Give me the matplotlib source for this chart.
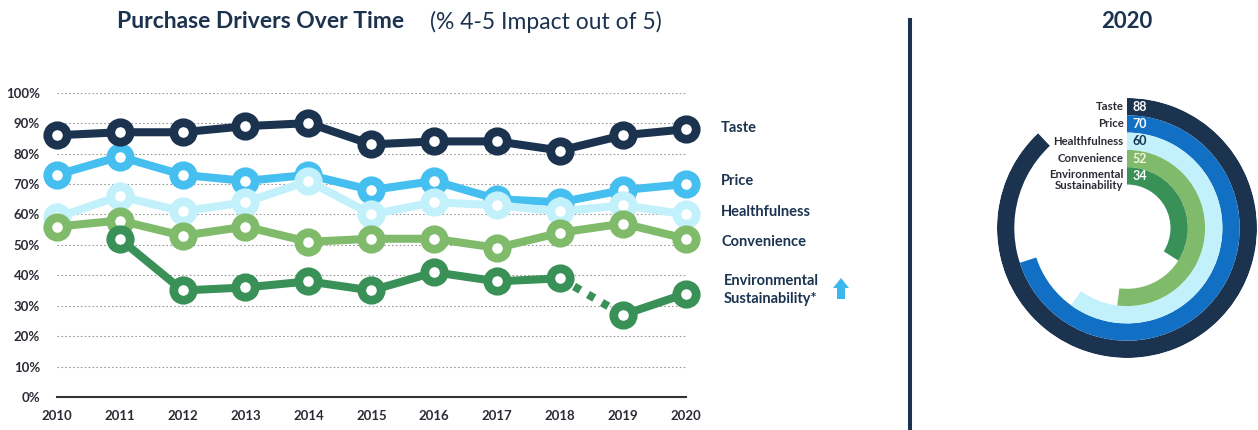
import matplotlib
matplotlib.use('Agg')
import matplotlib.pyplot as plt
from matplotlib.patches import Polygon
import numpy as np

plt.rcParams['font.family'] = ['Lato', 'DejaVu Sans']

# data
years = [2010, 2011, 2012, 2013, 2014, 2015, 2016, 2017, 2018, 2019, 2020]
taste = [86, 87, 87, 89, 90, 83, 84, 84, 81, 86, 88]
price = [73, 79, 73, 71, 73, 68, 71, 65, 64, 68, 70]
health = [59, 66, 61, 64, 71, 60, 64, 63, 61, 63, 60]
convenience = [56, 58, 53, 56, 51, 52, 52, 49, 54, 57, 52]
environment = [np.nan, 52, 35, 36, 38, 35, 41, 38, 39, 27, 34]

names = ['Taste', 'Price', 'Healthfulness', 'Convenience', 'Environmental\nSustainability']
line_colors = ['#1c3350', '#45bff0', '#c2f1fc', '#80bb6b', '#3a9158']
ring_colors = ['#1c3350', '#1270c4', '#c2f1fc', '#80bb6b', '#3a9158']
num_colors = ['#ffffff', '#ffffff', '#1c3350', '#f4f4e0', '#ffffff']

dark = '#1c3350'
text_col = '#2b2b35'
W, H = 1258, 430

fig = plt.figure(figsize=(12.58, 4.30), dpi=100)

# ---- line chart ----
ax = fig.add_axes([56.7 / W, 1 - 397 / H, (686 - 56.7) / W, (397 - 92.7) / H])
series = [price, health, convenience, environment, taste]
cols = [line_colors[1], line_colors[2], line_colors[3], line_colors[4], line_colors[0]]
x = np.array(years)
for vals, c in zip(series, cols):
    y = np.array(vals, dtype=float)
    if vals is environment:
        # dotted gap between 2018 and 2019
        ax.plot(x[:9], y[:9], color=c, lw=5.8, clip_on=False)
        ax.plot(x[8:10], y[8:10], color=c, lw=5.8, linestyle=(0, (0.9, 1.1)), clip_on=False)
        ax.plot(x[9:], y[9:], color=c, lw=5.8, clip_on=False)
    else:
        ax.plot(x, y, color=c, lw=5.8, clip_on=False)
    ax.plot(x, y, linestyle='none', marker='o', ms=14, mew=6.3, mfc='white', mec=c, clip_on=False)

ax.set_xlim(2010, 2020)
ax.set_ylim(0, 100)
ax.set_yticks(range(0, 101, 10))
ax.set_yticklabels([f'{v}%' for v in range(0, 101, 10)])
ax.set_xticks(years)
ax.set_xticklabels([str(v) for v in years])
ax.tick_params(length=0, labelsize=9.5, labelcolor=text_col)
ax.tick_params(axis='x', pad=9)
ax.tick_params(axis='y', pad=12)
for lbl in ax.get_xticklabels() + ax.get_yticklabels():
    lbl.set_fontweight('bold')
for g in range(10, 101, 10):
    ax.axhline(g, color='#9a9a9a', lw=0.8, linestyle=(0, (1.5, 2)), zorder=0)
for s in ['top', 'right', 'left']:
    ax.spines[s].set_visible(False)
ax.spines['bottom'].set_color('#333333')
ax.spines['bottom'].set_linewidth(1.5)

# series names at the right
label_y = [128, 181, 212, 242]
for n, yy in zip(names[:4], label_y):
    fig.text(721 / W, 1 - yy / H, n, fontsize=10.5, fontweight='bold', color=dark,
             ha='left', va='center')
fig.text(724 / W, 1 - 290 / H, 'Environmental\nSustainability*', fontsize=10.5,
         fontweight='bold', color=dark, ha='left', va='center', linespacing=1.3)

# up arrow, outline given in pixels from top-left
arrow_px = [(841, 278), (849, 288), (845, 288), (845, 299), (837, 299), (837, 288), (833, 288)]
fig.add_artist(Polygon([(px / 100, (H - py) / 100) for px, py in arrow_px], closed=True,
                       transform=fig.dpi_scale_trans, color='#3db8ee', lw=0))

# titles
fig.text(117 / W, 1 - 22 / H, 'Purchase Drivers Over Time', fontsize=16.5,
         fontweight='bold', color=dark, ha='left', va='center')
fig.text(430 / W, 1 - 22 / H, '(% 4-5 Impact out of 5)', fontsize=16.5,
         color=dark, ha='left', va='center')
fig.text(1127 / W, 1 - 22 / H, '2020', fontsize=16, fontweight='bold',
         color=dark, ha='center', va='center')

# divider
fig.add_artist(plt.Line2D([910 / W, 910 / W], [0, 1 - 20 / H], color=dark, lw=2.9))

# ---- radial bars ----
pax = fig.add_axes([997 / W, 1 - 358 / H, 260 / W, 260 / H], projection='polar')
pax.set_theta_zero_location('N')
pax.set_theta_direction(-1)
outer = 130
width = 17.3
latest = [taste[-1], price[-1], health[-1], convenience[-1], environment[-1]]
for i, (v, c) in enumerate(zip(latest, ring_colors)):
    bottom = outer - width * (i + 1)
    pax.bar(0, width, width=np.deg2rad(v / 100 * 360), bottom=bottom, align='edge',
            color=c, edgecolor='none')
    rc = bottom + width / 2
    pax.annotate(names[i], xy=(0, rc), xytext=(-2.5, 0 if i < 4 else 5), textcoords='offset points',
                 ha='right', va='center' if i < 4 else 'top', fontsize=8.2, fontweight='bold',
                 color=text_col, linespacing=1.05)
    pax.annotate(f'{int(v)}', xy=(0, rc), xytext=(4, 0), textcoords='offset points',
                 ha='left', va='center', fontsize=9, fontweight='bold', color=num_colors[i])
pax.set_ylim(0, outer)
pax.set_axis_off()

fig.savefig('out.png', dpi=100)
